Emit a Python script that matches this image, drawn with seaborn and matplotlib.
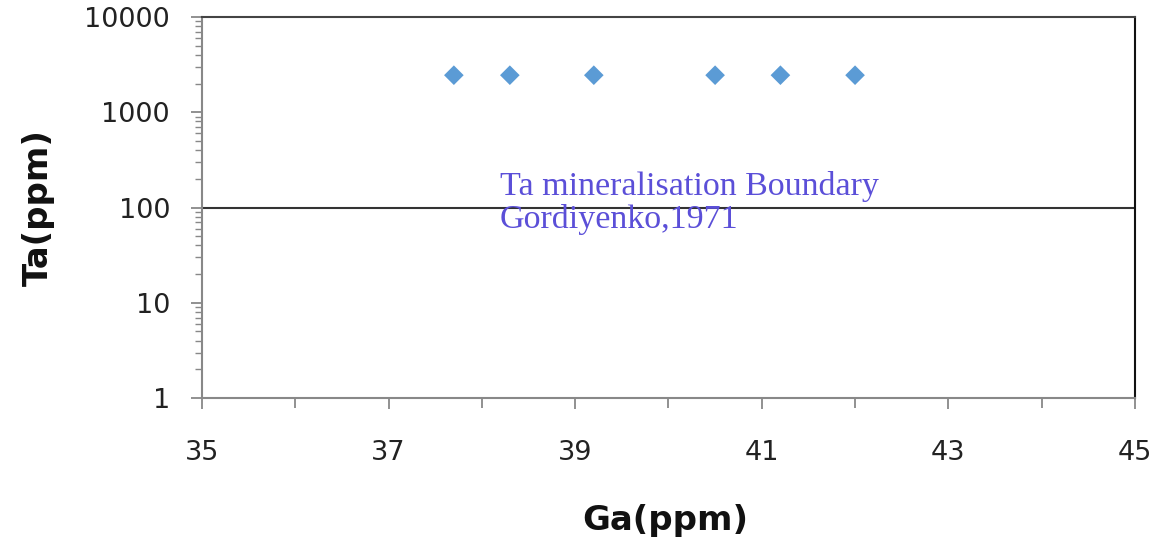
import pandas as pd
import matplotlib
matplotlib.use('Agg')
import matplotlib.pyplot as plt
import matplotlib.ticker as mticker
import seaborn as sns

# data
ga_ppm = [37.7, 38.3, 39.2, 40.5, 41.2, 42.0]
ta_ppm = [2450, 2450, 2450, 2450, 2450, 2450]
boundary_ta = 100
note_lines = ['Ta mineralisation Boundary', 'Gordiyenko,1971']
x_ticks = [35, 37, 39, 41, 43, 45]
y_ticks = [1, 10, 100, 1000, 10000]

df = pd.DataFrame({'Ga': ga_ppm, 'Ta': ta_ppm})

sns.set_style('white')
plt.rcParams['font.family'] = ['DejaVu Sans']

fig = plt.figure(figsize=(11.54, 5.42), dpi=100)
ax = fig.add_axes([0.175, 0.2657, 0.8085, 0.7029])

sns.scatterplot(data=df, x='Ga', y='Ta', marker='D', s=100, color='#5b9bd5',
                edgecolor='none', ax=ax, zorder=3)

# boundary line
ax.axhline(boundary_ta, color='#333333', lw=1.5, zorder=2)

ax.set_yscale('log')
ax.set_ylim(1, 10000)
ax.set_xlim(35, 45)
ax.set_yticks(y_ticks)
ax.yaxis.set_major_formatter(mticker.FuncFormatter(lambda v, p: '%d' % v))
ax.yaxis.set_minor_locator(mticker.LogLocator(base=10, subs=range(2, 10)))
ax.yaxis.set_minor_formatter(mticker.NullFormatter())
ax.set_xticks(x_ticks)
ax.set_xticks([36, 38, 40, 42, 44], minor=True)

ax.tick_params(axis='both', which='major', direction='out', length=8, width=1.3,
               color='#888888', labelsize=19.5, labelcolor='#222222',
               left=True, bottom=True)
ax.tick_params(axis='y', which='major', pad=15)
ax.tick_params(axis='x', which='major', pad=22)
ax.tick_params(axis='y', which='minor', direction='out', length=5, width=1,
               color='#888888', left=True)
ax.tick_params(axis='x', which='minor', direction='out', length=7, width=1.3,
               color='#888888', bottom=True)

for side in ['left', 'bottom']:
    ax.spines[side].set_color('#888888')
    ax.spines[side].set_linewidth(1.5)
ax.spines['top'].set_color('#444444')
ax.spines['top'].set_linewidth(1.5)
ax.spines['right'].set_color('#111111')
ax.spines['right'].set_linewidth(1.5)

ax.text(38.19, 135, note_lines[0], family='Liberation Serif', fontsize=24.5,
        color='#5b4fd8', ha='left', va='baseline')
ax.text(38.19, 61, note_lines[1], family='Liberation Serif', fontsize=24.5,
        color='#5b4fd8', ha='left', va='baseline')

ax.set_xlabel('Ga(ppm)', fontsize=24.5, fontweight='bold', color='#111111')
ax.set_ylabel('Ta(ppm)', fontsize=24.5, fontweight='bold', color='#111111')
ax.xaxis.set_label_coords(0.497, -0.278)
ax.yaxis.set_label_coords(-0.158, 0.5)

plt.savefig('out.png', dpi=100)
